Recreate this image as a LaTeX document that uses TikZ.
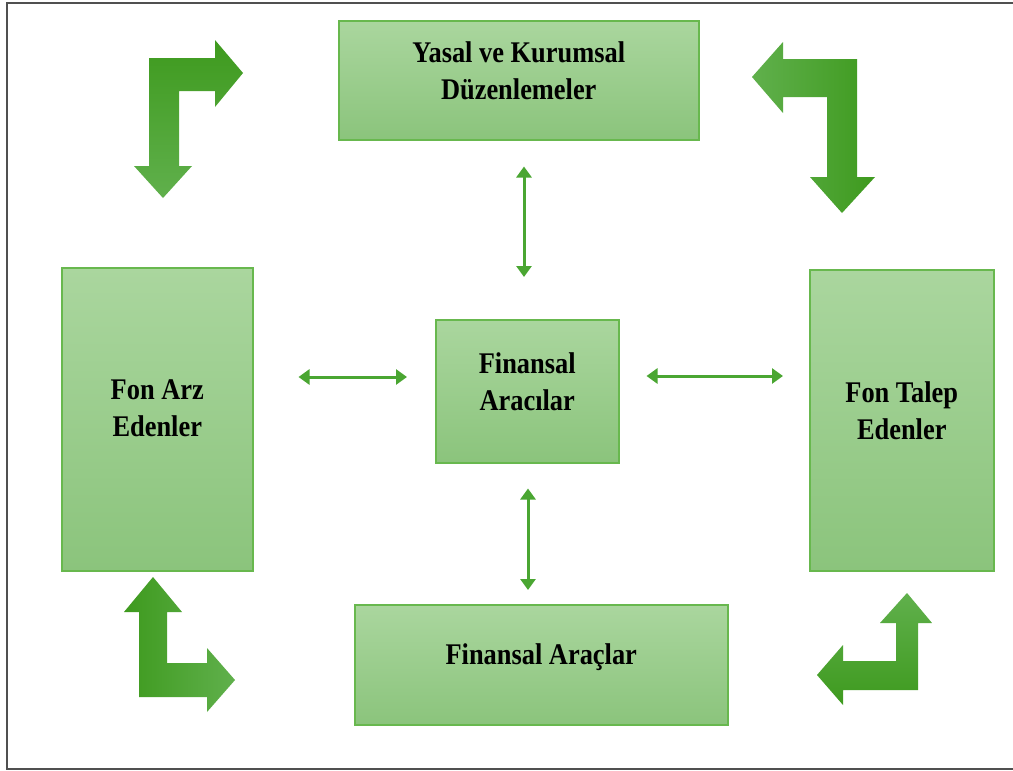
\documentclass[tikz,border=0pt]{standalone}
\usepackage{fontspec}
\setmainfont{Liberation Serif}[FakeStretch=0.88]
\usetikzlibrary{arrows.meta}
\definecolor{boxtop}{RGB}{170,214,158}
\definecolor{boxbot}{RGB}{139,196,124}
\definecolor{boxline}{RGB}{104,184,78}
\definecolor{arrgreen}{RGB}{74,166,50}
\definecolor{bentdark}{RGB}{62,154,30}
\definecolor{bentlight}{RGB}{96,176,76}
\definecolor{framegray}{RGB}{80,80,80}
\begin{document}
\begin{tikzpicture}[x=1pt,y=-1pt,
  box/.style={draw=boxline, line width=1.5pt, top color=boxtop, bottom color=boxbot, anchor=north west, inner sep=0pt},
  lbl/.style={font=\fontsize{30}{37}\selectfont\bfseries, align=center, text=black},
  dbl/.style={draw=arrgreen, line width=3pt, {Triangle[length=11pt,width=15pt]}-{Triangle[length=11pt,width=15pt]}},
  bent/.style={draw=none}]
\useasboundingbox (0,0) rectangle (1013,771);
\fill[white] (0,0) rectangle (1013,771);
% frame
\draw[framegray, line width=2pt] (1013,3) -- (7,3) -- (7,769) -- (1013,769);
% boxes
\node[box, minimum width=360pt, minimum height=119pt,
  label={[lbl,name=yasalt,yshift=9.5pt]center:{Yasal ve Kurumsal\\Düzenlemeler}}] (yasal) at (338,20) {};
\node[box, minimum width=191pt, minimum height=303pt,
  label={[lbl,name=fonarzt,yshift=11pt]center:{Fon Arz\\Edenler}}] (fonarz) at (61,267) {};
\node[box, minimum width=183pt, minimum height=143pt,
  label={[lbl,name=aracilart,yshift=9.5pt]center:{Finansal\\Aracılar}}] (aracilar) at (435,319) {};
\node[box, minimum width=184pt, minimum height=301pt,
  label={[lbl,name=fontalept,yshift=9.5pt]center:{Fon Talep\\Edenler}}] (fontalep) at (809,269) {};
\node[box, minimum width=373pt, minimum height=120pt,
  label={[lbl,name=araclart,yshift=8pt]center:{Finansal Araçlar}}] (araclar) at (354,604) {};
% double arrows
\draw[dbl, shorten <=26pt, shorten >=42pt] (yasal.south -| 524,0) -- (aracilar.north -| 524,0);
\draw[dbl, shorten <=25pt, shorten >=14pt] (aracilar.south -| 528,0) -- (araclar.north -| 528,0);
\draw[dbl, shorten <=45pt, shorten >=28pt] (fonarz.east |- 0,377) -- (aracilar.west |- 0,377);
\draw[dbl, shorten <=27pt, shorten >=26pt] (aracilar.east |- 0,376) -- (fontalep.west |- 0,376);
% bent arrows
\shade[bent, top color=bentdark, bottom color=bentlight]
  (149,58) -- (215,58) -- (215,40) -- (243,73) -- (215,107) -- (215,91) -- (179,91)
  -- (179,166) -- (192,166) -- (163,198) -- (134,166) -- (149,166) -- cycle;
\shade[bent, left color=bentlight, right color=bentdark]
  (857,59) -- (857,177) -- (875,177) -- (842,213) -- (810,177) -- (827,177) -- (827,97)
  -- (783,97) -- (783,113) -- (752,77) -- (783,42) -- (783,59) -- cycle;
\shade[bent, left color=bentdark, right color=bentlight]
  (139,697) -- (139,612) -- (124,612) -- (153,577) -- (182,612) -- (167,612) -- (167,663)
  -- (207,663) -- (207,648) -- (235,680) -- (207,712) -- (207,697) -- cycle;
\shade[bent, top color=bentlight, bottom color=bentdark]
  (918,690) -- (918,623) -- (932,623) -- (907,593) -- (880,623) -- (896,623) -- (896,661)
  -- (843,661) -- (843,645) -- (817,675) -- (843,705) -- (843,690) -- cycle;
\end{tikzpicture}
\end{document}
